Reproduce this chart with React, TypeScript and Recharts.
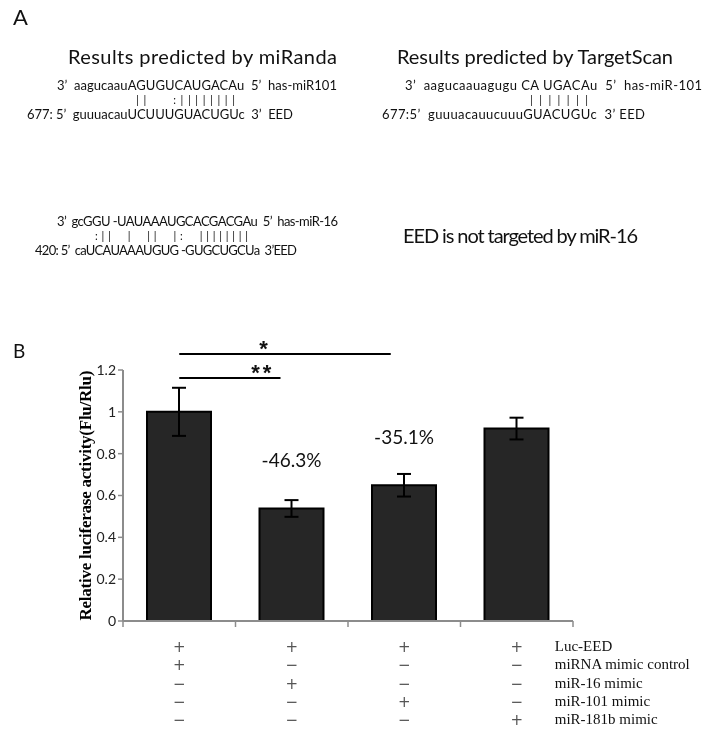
import React from 'react';
import { BarChart, Bar, XAxis, YAxis, ErrorBar, LabelList, ReferenceLine } from 'recharts';

// bar values
const groups = ['ctrl', 'miR-16', 'miR-101', 'miR-181b'];
const activity = [1.0, 0.538, 0.649, 0.92];
const activityErr = [0.115, 0.04, 0.054, 0.052];
const changeNotes = ['', '-46.3%', '-35.1%', ''];
const yTicks = [0, 0.2, 0.4, 0.6, 0.8, 1, 1.2];
const slotTicks = [0, 1, 2, 3, 4];

// treatment table under the bars
const rowNames = ['Luc-EED', 'miRNA mimic control', 'miR-16 mimic', 'miR-101 mimic', 'miR-181b mimic'];
const rowMarks = [
  ['+', '+', '+', '+'],
  ['+', '−', '−', '−'],
  ['−', '+', '−', '−'],
  ['−', '−', '+', '−'],
  ['−', '−', '−', '+'],
];

// significance brackets (x in bar slots, y in activity units)
const sigFrom = [0.5, 0.5];
const sigTo = [2.38, 1.4];
const sigLevel = [1.276, 1.162];
const sigMarks = ['*', '**'];

const SANS = 'Lato, "Open Sans", sans-serif';
const SERIF = '"Liberation Serif", "Times New Roman", serif';
const AXIS = '#8c8c8c';

const data = groups.map((g, i) => ({ group: g, value: activity[i], err: activityErr[i], note: changeNotes[i] }));

function MarkTick(props: any) {
  const { x, y, payload } = props;
  const i = payload.index;
  return (
    <g>
      {rowMarks.map((row, r) => (
        <text key={r} x={x} y={y + 30 + r * 18.3} textAnchor="middle" fontFamily='"DejaVu Sans", sans-serif' fontSize={15} fill="#555">
          {row[i]}
        </text>
      ))}
      {i === groups.length - 1 &&
        rowNames.map((n, r) => (
          <text key={'n' + r} x={x + 38} y={y + 29 + r * 18.3} fontFamily={SERIF} fontSize={15} fill="#111">
            {n}
          </text>
        ))}
    </g>
  );
}

function NoTick() {
  return <g />;
}

function YLabel(p: any) {
  const vb = p.viewBox;
  const cx = vb.x + 18;
  const cy = vb.y + vb.height / 2;
  return (
    <text
      x={cx}
      y={cy}
      transform={`rotate(-90, ${cx}, ${cy})`}
      textAnchor="middle"
      fontFamily={SERIF}
      fontWeight="bold"
      fontSize={17}
      textLength={250}
      fill="#000"
    >
      Relative luciferase activity(Flu/Rlu)
    </text>
  );
}

function PanelA() {
  const t = { fontFamily: SANS, fill: '#111', style: { whiteSpace: 'pre' as const } };
  return (
    <div style={{ position: 'absolute', left: 0, top: 0, width: 705, height: 730, pointerEvents: 'none', willChange: 'transform' }}>
      <svg width={705} height={730}>
        <text x={13} y={25} fontFamily={SANS} fontSize={22} fill="#111">A</text>
        <text x={13} y={358} fontFamily={SANS} fontSize={19} fill="#111">B</text>

        <text {...t} x={68} y={64} fontSize={20} textLength={269}>Results predicted by miRanda</text>
        <text {...t} x={397} y={64} fontSize={20} textLength={276}>Results predicted by TargetScan</text>

        <text {...t} x={57} y={90} fontSize={13} textLength={280}>{'3’  aagucaauAGUGUCAUGACAu  5’  has-miR101'}</text>
        <text {...t} x={136} y={104} fontSize={11} textLength={99}>{'||   :||||||||'}</text>
        <text {...t} x={27} y={119} fontSize={13} textLength={266}>{'677: 5’  guuuacauUCUUUGUACUGUc  3’  EED'}</text>

        <text {...t} x={405} y={90} fontSize={13} textLength={297}>{'3’  aagucaauagugu CA UGACAu  5’  has-miR-101'}</text>
        <text {...t} x={530} y={104} fontSize={11} textLength={58}>{'|||||||'}</text>
        <text {...t} x={382} y={119} fontSize={13} textLength={263}>{'677:5’  guuuacauucuuuGUACUGUc  3’ EED'}</text>

        <text {...t} x={57} y={226} fontSize={13} textLength={281}>{'3’  gcGGU -UAUAAAUGCACGACGAu  5’  has-miR-16'}</text>
        <text {...t} x={95} y={240} fontSize={11} textLength={153}>{':||  |  ||  |:  ||||||||'}</text>
        <text {...t} x={35} y={255} fontSize={13} textLength={262}>{'420: 5’  caUCAUAAAUGUG -GUGCUGCUa  3’EED'}</text>

        <text {...t} x={403} y={243} fontSize={20} textLength={235}>EED is not targeted by miR-16</text>
      </svg>
    </div>
  );
}

export default function App() {
  return (
    <div style={{ position: 'absolute', left: 0, top: 0, width: 705, height: 730, background: '#fff' }}>
      <div style={{ willChange: 'transform' }}>
        <BarChart width={705} height={730} data={data} margin={{ top: 370, right: 132, left: 73, bottom: 0 }}>
          {/* slot axis: draws the baseline and the boundary ticks */}
          <XAxis
            dataKey="value"
            type="number"
            domain={[0, 4]}
            allowDataOverflow
            ticks={slotTicks}
            tick={<NoTick />}
            tickSize={6}
            height={1}
            axisLine={{ stroke: AXIS, strokeWidth: 2 }}
            tickLine={{ stroke: AXIS, strokeWidth: 1.5 }}
          />
          {/* group axis: carries the +/- table */}
          <XAxis
            xAxisId="t"
            dataKey="group"
            height={108}
            axisLine={false}
            tickLine={false}
            tickSize={0}
            tickMargin={0}
            interval={0}
            tick={<MarkTick />}
          />
          <YAxis
            width={50}
            domain={[0, 1.2]}
            ticks={yTicks}
            allowDataOverflow
            tickFormatter={(v: number) => String(Number(v.toFixed(1)))}
            tick={{ fontFamily: SANS, fontSize: 14, fill: '#222' }}
            tickSize={5}
            tickMargin={2}
            axisLine={{ stroke: AXIS, strokeWidth: 2 }}
            tickLine={{ stroke: AXIS, strokeWidth: 1.5 }}
            label={YLabel}
          />
          <Bar xAxisId="t" dataKey="value" fill="#262626" stroke="#000" strokeWidth={2} barSize={64} isAnimationActive={false}>
            <ErrorBar dataKey="err" width={7} stroke="#000" strokeWidth={2} direction="y" />
            <LabelList dataKey="note" position="top" offset={41} fontFamily={SANS} fontSize={19} fill="#111" />
          </Bar>
          {sigMarks.map((m, i) => (
            <ReferenceLine
              key={i}
              ifOverflow="visible"
              segment={[{ x: sigFrom[i], y: sigLevel[i] }, { x: sigTo[i], y: sigLevel[i] }]}
              stroke="#000"
              strokeWidth={2}
              label={{
                value: m,
                position: 'center',
                dx: i === 0 ? -20 : 33,
                dy: -6,
                fontFamily: '"Liberation Sans", sans-serif',
                fontWeight: 'bold',
                fontSize: 22,
                letterSpacing: 3,
                fill: '#111',
              }}
            />
          ))}
        </BarChart>
      </div>
      <PanelA />
    </div>
  );
}
